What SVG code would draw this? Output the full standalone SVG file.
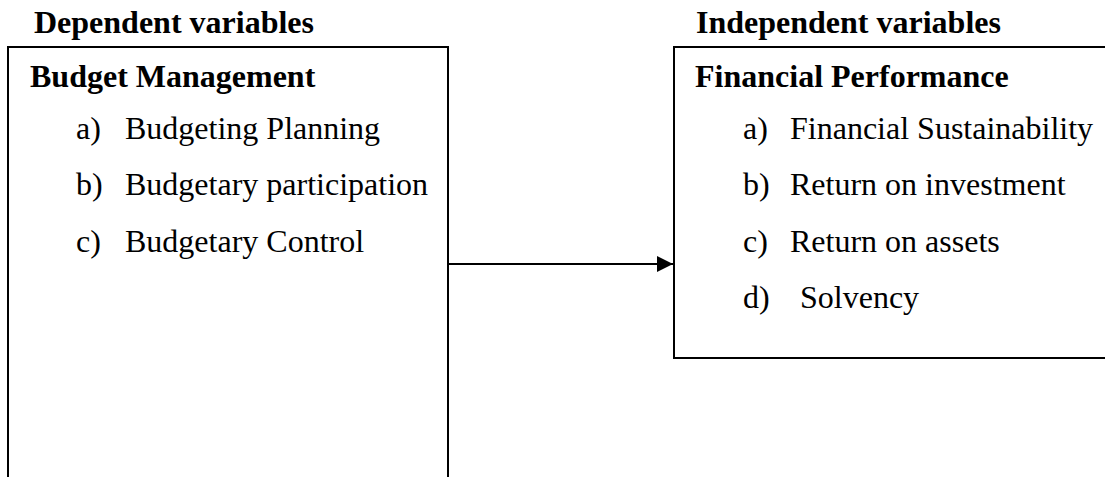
<svg xmlns="http://www.w3.org/2000/svg" width="1105" height="477" viewBox="0 0 1105 477">
<style>
text{font-family:"Liberation Serif","Times New Roman",serif;font-size:32px;fill:#000}
.b{font-weight:bold}
.box{fill:#fff;stroke:#000;stroke-width:2}
.conn{stroke:#000;stroke-width:2;fill:none}
</style>
<defs>
<marker id="ah" viewBox="0 0 10 10" refX="10" refY="5" markerWidth="8" markerHeight="8" orient="auto" markerUnits="strokeWidth">
<path d="M0,0 L10,5 L0,10 Z" fill="#000"/>
</marker>
</defs>
<rect width="1105" height="477" fill="#fff"/>
<text class="b" x="34" y="33">Dependent variables</text>
<text class="b" x="696" y="33">Independent variables</text>
<g id="budget-management">
<rect class="box" x="8" y="47" width="440" height="440"/>
<text class="b" x="30" y="87">Budget Management</text>
<text x="76" y="139">a)</text><text x="125" y="139">Budgeting Planning</text>
<text x="76" y="195">b)</text><text x="125" y="195">Budgetary participation</text>
<text x="76" y="252">c)</text><text x="125" y="252">Budgetary Control</text>
</g>
<g id="financial-performance">
<rect class="box" x="674" y="47" width="440" height="311"/>
<text class="b" x="695" y="87">Financial Performance</text>
<text x="743" y="139">a)</text><text x="790" y="139">Financial Sustainability</text>
<text x="743" y="195">b)</text><text x="790" y="195">Return on investment</text>
<text x="743" y="252">c)</text><text x="790" y="252">Return on assets</text>
<text x="743" y="308">d)</text><text x="800" y="308">Solvency</text>
</g>
<g id="connectors">
<line class="conn" x1="448" y1="264" x2="673" y2="264" marker-end="url(#ah)"/>
</g>
</svg>
